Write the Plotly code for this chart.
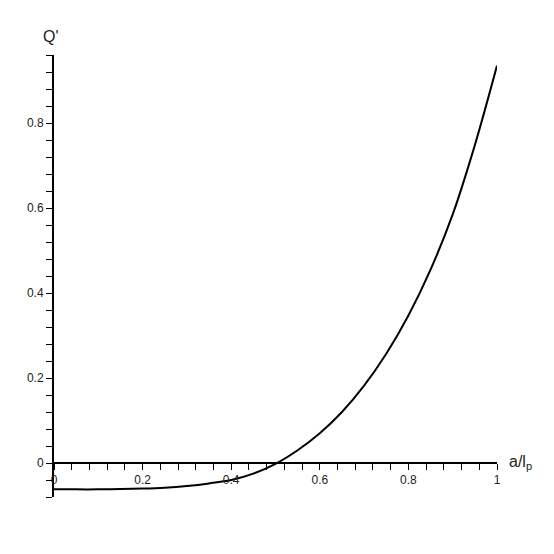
import plotly.graph_objects as go

a_vals = [0.0, 0.05, 0.1, 0.15, 0.2, 0.25, 0.3, 0.35, 0.4, 0.45, 0.5, 0.55, 0.6, 0.65,
          0.7, 0.75, 0.8, 0.85, 0.9, 0.95, 1.0]
q_vals = [-0.062, -0.062, -0.062, -0.061, -0.060, -0.058, -0.054, -0.048, -0.040, -0.025,
          -0.002, 0.030, 0.070, 0.120, 0.182, 0.257, 0.347, 0.455, 0.585, 0.748, 0.935]

x_ticks = [0, 0.2, 0.4, 0.6, 0.8, 1]
x_labels = ["0", "0.2", "0.4", "0.6", "0.8", "1"]
y_ticks = [0, 0.2, 0.4, 0.6, 0.8]
y_labels = ["0", "0.2", "0.4", "0.6", "0.8"]

y_min, y_max = -0.08, 0.96

fig = go.Figure()
fig.add_trace(go.Scatter(x=a_vals, y=q_vals, mode="lines",
                         line=dict(color="black", width=2, shape="spline", smoothing=1.0),
                         showlegend=False, hoverinfo="skip"))

font = dict(family="Liberation Sans, Arial, sans-serif", size=12, color="#222")

fig.update_layout(
    width=554, height=554,
    margin=dict(l=46, r=65, t=47, b=65, autoexpand=False),
    paper_bgcolor="white", plot_bgcolor="white",
    font=font,
    xaxis=dict(range=[0, 1], anchor="free", position=(0 - y_min) / (y_max - y_min),
               showline=True, linecolor="black", linewidth=2,
               tickmode="array", tickvals=x_ticks, ticktext=x_labels,
               ticks="outside", ticklen=6, tickwidth=1, tickcolor="black",
               minor=dict(dtick=0.04, ticks="outside", ticklen=6, tickcolor="black", showgrid=False),
               showgrid=False, zeroline=False, automargin=False),
    yaxis=dict(range=[y_min, y_max], showline=True, linecolor="black", linewidth=2,
               tickmode="array", tickvals=y_ticks, ticktext=y_labels,
               ticks="outside", ticklen=6, tickwidth=1, tickcolor="black",
               minor=dict(tick0=0, dtick=0.04, ticks="outside", ticklen=6, tickcolor="black", showgrid=False),
               showgrid=False, zeroline=False, automargin=False),
    annotations=[
        dict(text="Q'", xref="paper", yref="paper", x=0, y=1, xshift=-3, yshift=8,
             xanchor="center", yanchor="bottom", showarrow=False,
             font=dict(family="Liberation Sans, Arial, sans-serif", size=16, color="#222")),
        dict(text="a/l<sub>p</sub>", xref="paper", yref="y", x=1, y=0, xshift=10,
             xanchor="left", yanchor="top", yshift=12, showarrow=False,
             font=dict(family="Liberation Sans, Arial, sans-serif", size=16, color="#222")),
    ],
)

fig.write_html("out.html")
